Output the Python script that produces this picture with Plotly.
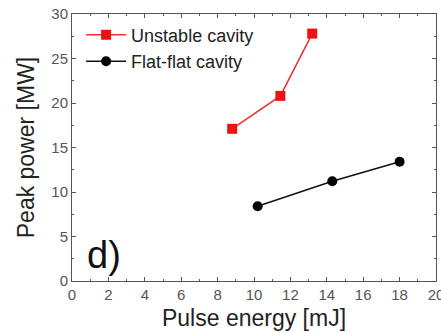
import plotly.graph_objects as go

unstable_x = [8.8, 11.45, 13.2]
unstable_y = [17.1, 20.8, 27.8]
flat_x = [10.2, 14.3, 18.0]
flat_y = [8.4, 11.2, 13.4]

FONT = "Liberation Sans, Arial"

fig = go.Figure()
fig.add_trace(go.Scatter(x=unstable_x, y=unstable_y, mode="lines+markers", name="Unstable cavity",
                         line=dict(color="#f03030", width=1.5),
                         marker=dict(symbol="square", size=10, color="#ee1111")))
fig.add_trace(go.Scatter(x=flat_x, y=flat_y, mode="lines+markers", name="Flat-flat cavity",
                         line=dict(color="#111111", width=1.5),
                         marker=dict(symbol="circle", size=10, color="#000000")))

axis_common = dict(showgrid=False, zeroline=False, showline=True, linecolor="#555555", linewidth=1,
                   mirror="ticks", ticks="inside", ticklen=4, tickcolor="#555555", automargin=False,
                   ticklabeloverflow="allow",
                   tickfont=dict(family=FONT, size=15, color="#555555"))
fig.update_xaxes(range=[0, 20], dtick=2, title=dict(text="Pulse energy [mJ]", standoff=7,
                 font=dict(family=FONT, size=23, color="#222222")),
                 minor=dict(dtick=1, ticks="inside", ticklen=2, tickcolor="#555555"), **axis_common)
fig.update_yaxes(range=[0, 30], dtick=5, title=dict(text="Peak power [MW]", standoff=10,
                 font=dict(family=FONT, size=23, color="#222222")),
                 minor=dict(dtick=2.5, ticks="inside", ticklen=2, tickcolor="#555555"), **axis_common)

fig.add_annotation(x=0.037, y=0.011, xref="paper", yref="paper", xanchor="left", yanchor="bottom",
                   text="d)", showarrow=False, font=dict(family=FONT, size=38, color="#111111"))

fig.update_layout(width=441, height=333, margin=dict(l=72, r=5, t=14, b=52),
                  plot_bgcolor="white", paper_bgcolor="white",
                  legend=dict(x=0.025, y=0.99, xanchor="left", yanchor="top", bgcolor="rgba(0,0,0,0)",
                              font=dict(family=FONT, size=18, color="#222222"),
                              itemwidth=40, tracegroupgap=0))
fig.write_html("out.html", config={"displayModeBar": False},
               post_script="document.body.style.margin='0';")
